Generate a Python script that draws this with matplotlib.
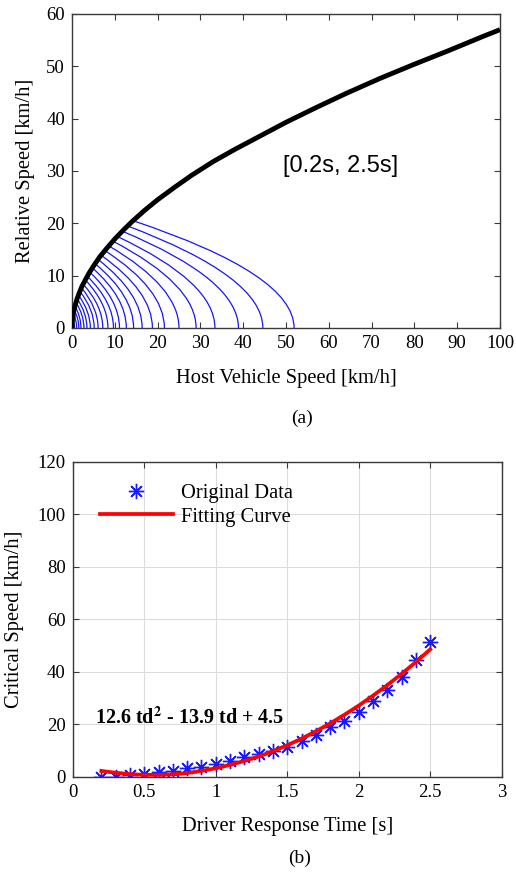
import matplotlib
matplotlib.use("Agg")
import matplotlib.pyplot as plt
from matplotlib.path import Path
from matplotlib.patches import PathPatch

# (a) envelope of relative speed vs host speed
host_speed = [0, 0.05, 0.15, 0.3, 0.5, 0.8, 1.2, 1.7, 2.3, 3, 4, 5, 6.5, 8,
              10, 12, 14, 17, 20, 24, 28, 33, 38, 44, 50, 57, 64, 72, 80, 88,
              96, 100]
relative_speed = [0, 1.05, 1.9, 2.7, 3.5, 4.5, 5.6, 6.7, 7.9, 9.0, 10.5, 11.8,
                  13.6, 15.1, 17.0, 18.7, 20.3, 22.5, 24.5, 26.9, 29.2, 31.8,
                  34.1, 36.7, 39.3, 42.1, 44.8, 47.7, 50.4, 53.0, 55.7, 57.0]

# (a) one curve per response time: top point on the envelope and stop speed
response_time = [0.2, 0.3, 0.4, 0.5, 0.6, 0.7, 0.8, 0.9, 1.0, 1.1, 1.2, 1.3,
                 1.4, 1.5, 1.6, 1.7, 1.8, 1.9, 2.0, 2.1, 2.2, 2.3, 2.4, 2.5]
peak_host = [0.2, 0.34, 0.49, 0.7, 0.93, 1.2, 1.5, 1.84, 2.2, 2.6, 3.1, 3.56,
             4.13, 4.74, 5.39, 6.08, 6.8, 7.67, 8.58, 9.54, 10.55, 11.73,
             12.97, 14.26]
peak_rel = [2.2, 2.9, 3.5, 4.2, 4.9, 5.6, 6.3, 7.0, 7.7, 8.4, 9.2, 9.9, 10.7,
            11.5, 12.3, 13.1, 13.9, 14.8, 15.7, 16.6, 17.5, 18.5, 19.5, 20.5]
stop_host = [0.6, 1.1, 1.6, 2.1, 2.8, 3.5, 4.3, 5.2, 6.1, 7.2, 8.4, 9.7, 11.1,
             12.7, 14.4, 16.4, 18.8, 21.6, 25.0, 29.0, 33.4, 38.9, 44.6, 51.9]

# (b) critical speed vs driver response time
critical_speed = [0.0, 0.0, 0.6, 0.9, 1.7, 2.3, 3.2, 3.8, 4.8, 6.0, 7.4, 8.5,
                  9.9, 11.4, 13.6, 15.9, 18.8, 21.3, 24.8, 28.8, 33.0, 38.1,
                  44.4, 51.4]
fit_speed = [2.2, 1.5, 1.0, 0.7, 0.7, 0.9, 1.4, 2.2, 3.2, 4.5, 6.0, 7.7, 9.7,
             12.0, 14.5, 17.3, 20.3, 23.6, 27.1, 30.9, 34.9, 39.2, 43.7, 48.5]

plt.rcParams["font.family"] = "Liberation Serif"
plt.rcParams["mathtext.fontset"] = "stix"

fig = plt.figure(figsize=(5.16, 8.73), dpi=100)
ax1 = fig.add_axes([0.1395, 0.6243, 0.8295, 0.3597])
ax2 = fig.add_axes([0.1409, 0.1103, 0.8314, 0.3608])

frame = "#3a3a3a"
for ax in (ax1, ax2):
    for s in ax.spines.values():
        s.set_color(frame)
        s.set_linewidth(1.0)
    ax.tick_params(direction="in", length=4, width=0.8, color=frame,
                   top=True, right=True, labelsize=13.5, pad=5)

# ---- (a)
for xp, yp, xi in zip(peak_host, peak_rel, stop_host):
    p = Path([(xp, yp), (xi, yp / 2.0), (xi, 0)],
             [Path.MOVETO, Path.CURVE3, Path.CURVE3])
    ax1.add_patch(PathPatch(p, fill=False, edgecolor="#1515ff", lw=0.9,
                            zorder=2))
ax1.plot(host_speed, relative_speed, color="black", lw=3.5, zorder=3,
         solid_joinstyle="round", solid_capstyle="butt")
ax1.set_xlim(0, 100)
ax1.set_ylim(0, 60)
ax1.set_xticks(range(0, 101, 10))
ax1.set_yticks(range(0, 61, 10))
ax1.set_xlabel("Host Vehicle Speed [km/h]", fontsize=14.8, labelpad=12)
ax1.set_ylabel("Relative Speed [km/h]", fontsize=14.8, labelpad=8)
ax1.text(49.3, 31, "[0.2s, 2.5s]", fontsize=17, family="Liberation Sans",
         va="center", ha="left")
fig.text(0.585, 1 - 418 / 873, "(a)", ha="center", va="center", fontsize=14)

# ---- (b)
ax2.grid(True, color="#dcdcdc", lw=0.8)
ax2.set_axisbelow(True)
ax2.plot(response_time, critical_speed, ls="none", marker=(8, 2, 0),
         ms=11, mew=1.0, color="#1a1aff", label="Original Data", zorder=3)
ax2.plot(response_time, fit_speed, color="red", lw=2.7,
         label="Fitting Curve", zorder=4)
ax2.set_xlim(0, 3)
ax2.set_ylim(0, 120)
ax2.set_xticks([0, 0.5, 1, 1.5, 2, 2.5, 3])
ax2.set_xticklabels(["0", "0.5", "1", "1.5", "2", "2.5", "3"])
ax2.set_yticks(range(0, 121, 20))
ax2.set_xlabel("Driver Response Time [s]", fontsize=14.8, labelpad=12)
ax2.set_ylabel("Critical Speed [km/h]", fontsize=14.8, labelpad=10)
ax2.text(0.155, 22.5, r"12.6 td$^{\mathbf{2}}$ - 13.9 td + 4.5",
         fontsize=14.5, fontweight="bold", va="center", ha="left")
ax2.legend(loc="upper left", bbox_to_anchor=(0.0636, 0.93), frameon=False,
           fontsize=14.8, handlelength=3.55, handletextpad=0.4,
           labelspacing=0.2, borderpad=0, borderaxespad=0)
fig.text(0.581, 1 - 858 / 873, "(b)", ha="center", va="center", fontsize=14)

fig.savefig("out.png", dpi=100)
